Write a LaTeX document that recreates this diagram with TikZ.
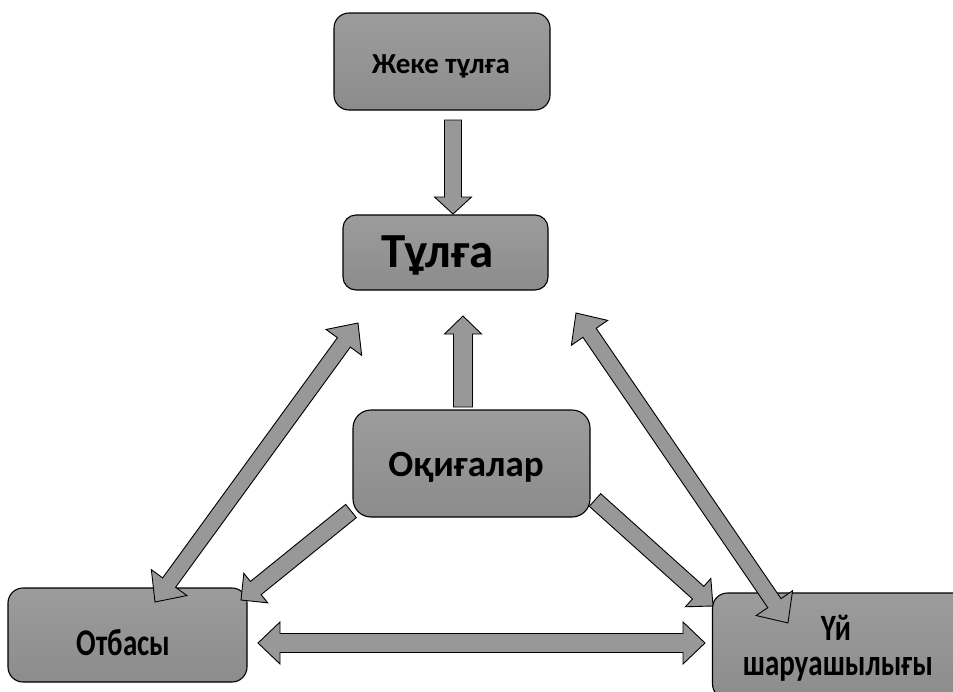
\documentclass[tikz,border=0pt]{standalone}
\usepackage{graphicx}
\usepackage{fontspec}
\setmainfont{Carlito}
\usetikzlibrary{calc}
\definecolor{boxtop}{RGB}{156,156,156}
\definecolor{boxbot}{RGB}{140,140,140}
\definecolor{arrfill}{RGB}{152,152,152}
\tikzset{
  blk/.style={draw=black, line width=1.1pt, rounded corners=#1, top color=boxtop, bottom color=boxbot, inner sep=0pt},
  blk/.default=14pt,
  txt/.style={inner sep=0pt, anchor=base, text=black},
  arrshape/.style={draw=black, line width=0.9pt, fill=arrfill, line join=miter},
}
% single block arrow: from, to, shaft half width, head half width, head length
\newcommand\sblock[5]{%
  \path let \p1=(#1), \p2=(#2), \n1={atan2(\y2-\y1,\x2-\x1)}, \n2={veclen(\x2-\x1,\y2-\y1)} in
    [arrshape, shift={(\p1)}, rotate=\n1]
    (0pt,{-#3*1pt}) -- ({\n2-#5*1pt},{-#3*1pt}) -- ({\n2-#5*1pt},{-#4*1pt}) -- (\n2,0pt)
    -- ({\n2-#5*1pt},{#4*1pt}) -- ({\n2-#5*1pt},{#3*1pt}) -- (0pt,{#3*1pt}) -- cycle;
}
% double block arrow
\newcommand\dblock[5]{%
  \path let \p1=(#1), \p2=(#2), \n1={atan2(\y2-\y1,\x2-\x1)}, \n2={veclen(\x2-\x1,\y2-\y1)} in
    [arrshape, shift={(\p1)}, rotate=\n1]
    (0pt,0pt) -- ({#5*1pt},{#4*1pt}) -- ({#5*1pt},{#3*1pt}) -- ({\n2-#5*1pt},{#3*1pt}) -- ({\n2-#5*1pt},{#4*1pt})
    -- (\n2,0pt) -- ({\n2-#5*1pt},{-#4*1pt}) -- ({\n2-#5*1pt},{-#3*1pt}) -- ({#5*1pt},{-#3*1pt}) -- ({#5*1pt},{-#4*1pt}) -- cycle;
}
\begin{document}
\begin{tikzpicture}[x=1pt,y=-1pt]
\useasboundingbox (0,0) rectangle (953,691);
\fill[white] (0,0) rectangle (953,691);

% boxes
\node[blk=15pt, minimum width=216pt, minimum height=97pt] (jeke) at (442,61.5) {};
\node[blk=13pt, minimum width=205pt, minimum height=75pt] (tulga) at (445.5,252.5) {};
\node[blk=18pt, minimum width=237pt, minimum height=107pt] (oqiga) at (471.5,463.5) {};
\node[blk=15pt, minimum width=239pt, minimum height=94pt] (otbasy) at (127.5,635) {};
\node[blk=15pt, minimum width=255pt, minimum height=106pt] (uy) at (840,646) {};

% texts
\node[txt, font=\bfseries\fontsize{29}{32}\selectfont] (jeke-t) at (441,73) {Жеке тұлға};
\node[txt, font=\bfseries\fontsize{49}{54}\selectfont] (tulga-t) at (438,267) {Тұлға};
\node[txt, font=\bfseries\fontsize{37}{42}\selectfont] (oqiga-t) at (466,476) {Оқиғалар};
\node[txt, font=\bfseries\fontsize{29}{32}\selectfont] (otbasy-t) at (123.5,655) {\scalebox{1}[1.3]{Отбасы}};
\node[txt, font=\bfseries\fontsize{29}{32}\selectfont] (uy-t1) at (836,640) {\scalebox{1}[1.28]{Үй}};
\node[txt, font=\bfseries\fontsize{29}{32}\selectfont] (uy-t2) at (838,675) {\scalebox{1}[1.28]{шаруашылығы}};

\coordinate (j1) at (453,120);
\coordinate (j2) at (453,214);
\coordinate (o1) at (463,407);
\coordinate (o2) at (463,316);
\coordinate (l1) at (155,602);
\coordinate (l2) at (358,323);
\coordinate (ob1) at (351,511);
\coordinate (ob2) at (241,600);
\coordinate (ou1) at (595,500);
\coordinate (ou2) at (713,606);
\coordinate (r1) at (576,313);
\coordinate (r2) at (788,623);
\coordinate (h1) at (258,643);
\coordinate (h2) at (705,643);

\sblock{j1}{j2}{8.5}{18.5}{17}
\sblock{o1}{o2}{9.5}{18.5}{18}
\dblock{l1}{l2}{8}{22}{24}
\sblock{ob1}{ob2}{8.5}{19}{19}
\sblock{ou1}{ou2}{8.5}{19}{20}
\dblock{r1}{r2}{8}{22}{24}
\dblock{h1}{h2}{9.5}{21}{22}
\end{tikzpicture}
\end{document}
